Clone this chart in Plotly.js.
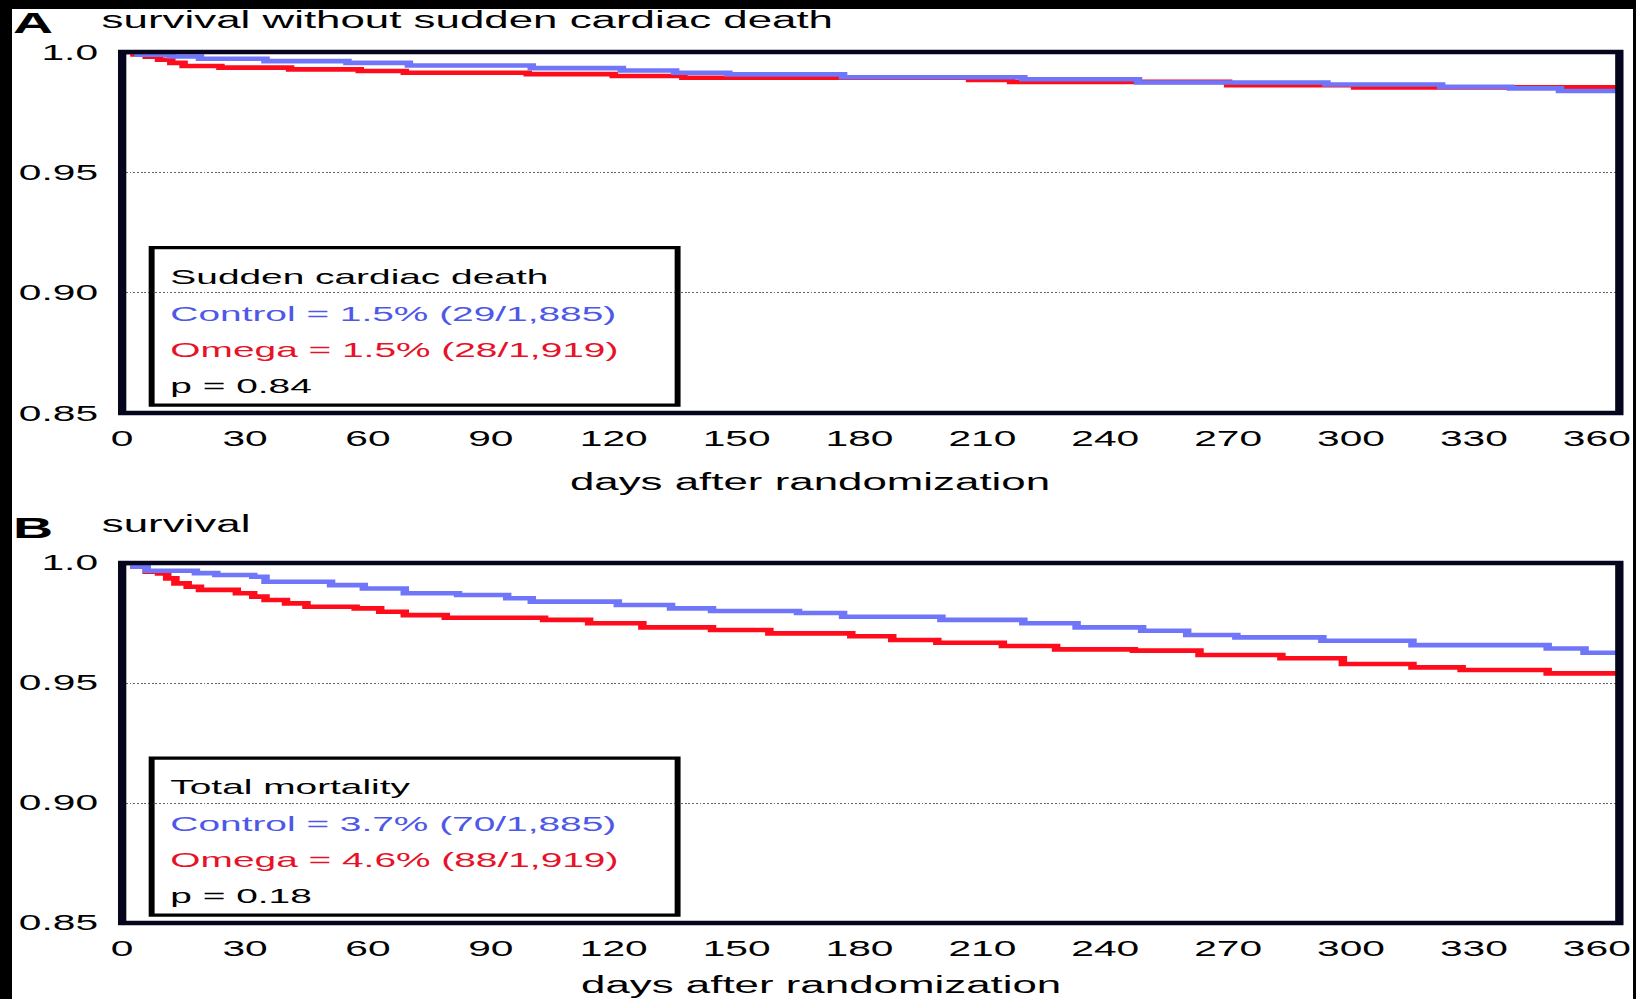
<!DOCTYPE html>
<html>
<head>
<meta charset="utf-8">
<script src="https://cdn.plot.ly/plotly-3.0.1.min.js"></script>
<style>
html,body{margin:0;padding:0;background:#000;overflow:hidden;width:1636px;height:999px}
#wrap{position:absolute;left:0;top:0;width:884px;height:999px;transform:scaleX(1.85068);transform-origin:0 0;}
.band{position:absolute;background:#000;z-index:10}
</style>
</head>
<body>
<div id="wrap"><div id="chart"></div></div>
<div class="band" style="left:0;top:0;width:12px;height:999px"></div>
<div class="band" style="left:0;top:0;width:1636px;height:9px"></div>
<div class="band" style="right:0;top:0;width:3px;height:999px"></div>
<script>
// ---- data ----
const ctrlA_days = [0,4,12,19,35,55,70,100,122,135,148,176,220,248,294,322,339,351,365.5];
const ctrlA_surv = [1.0,0.9989,0.9981,0.9972,0.9962,0.9955,0.9944,0.9933,0.9923,0.9914,0.9907,0.9895,0.9887,0.9873,0.9865,0.9855,0.9849,0.9838,0.9838];
const omegaA_days = [0,3,6,9,12,15,24,41,58,69,99,120,137,207,217,270,301,365.5];
const omegaA_surv = [1.0,0.9990,0.9980,0.9968,0.9955,0.9942,0.9935,0.9928,0.9921,0.9914,0.9908,0.9900,0.9893,0.9884,0.9876,0.9862,0.9853,0.9853];
const ctrlB_days = [0,3,6,18,23,32,35,51,59,69,82,94,100,121,134,144,165,176,200,220,233,249,260,272,293,315,348,357,365.5];
const ctrlB_surv = [1.0,0.9985,0.9968,0.9958,0.9950,0.9943,0.9922,0.9908,0.9894,0.9874,0.9867,0.9853,0.9839,0.9825,0.9811,0.9800,0.9792,0.9776,0.9763,0.9749,0.9732,0.9718,0.9700,0.9690,0.9676,0.9658,0.9644,0.9626,0.9626];
const omegaB_days = [0,3,6,9,11,13,16,19,28,32,35,40,45,57,63,69,79,103,114,127,144,158,178,188,199,215,228,247,263,283,298,315,327,348,365.5];
const omegaB_surv = [1.0,0.9985,0.9964,0.9957,0.9936,0.9915,0.9901,0.9888,0.9874,0.9860,0.9846,0.9832,0.9818,0.9811,0.9797,0.9783,0.9772,0.9763,0.9749,0.9732,0.9721,0.9707,0.9695,0.9679,0.9668,0.9654,0.9640,0.9635,0.9617,0.9603,0.9579,0.9565,0.9554,0.9540,0.9540];

const xTickVals = [0,30,60,90,120,150,180,210,240,270,300,330,360];
const yTickVals = [0.85,0.90,0.95,1.0];
const yTickText = ['0.85','0.90','0.95','1.0'];

const panelLetters = ['A','B'];
const panelTitles = ['survival without sudden cardiac death','survival'];
const xTitle = 'days after randomization';
const boxA = ['Sudden cardiac death','Control = 1.5% (29/1,885)','Omega = 1.5% (28/1,919)','p = 0.84'];
const boxB = ['Total mortality','Control = 3.7% (70/1,885)','Omega = 4.6% (88/1,919)','p = 0.18'];

// ---- styling ----
const FONT = 'Liberation Sans, Arial, Helvetica, sans-serif';
const BLUE_LINE = 'rgb(112,118,250)';
const RED_LINE = 'rgb(255,12,28)';
const BLUE_TXT = 'rgb(78,88,232)';
const RED_TXT = 'rgb(232,18,40)';
const FRAME = '#05051e';

function tr(x, y, color, xa, ya){
  return {x:x, y:y, mode:'lines', line:{shape:'hv', color:color, width:4.6}, xaxis:xa, yaxis:ya, hoverinfo:'skip', showlegend:false};
}
const data = [
  tr(omegaA_days, omegaA_surv, RED_LINE, 'x', 'y'),
  tr(ctrlA_days, ctrlA_surv, BLUE_LINE, 'x', 'y'),
  tr(omegaB_days, omegaB_surv, RED_LINE, 'x2', 'y2'),
  tr(ctrlB_days, ctrlB_surv, BLUE_LINE, 'x2', 'y2')
];

function xax(anchor){
  return {anchor:anchor, domain:[0,1], range:[0,365.5], tickvals:xTickVals, ticks:'', showgrid:false, zeroline:false, showline:false,
    tickfont:{family:FONT, size:22, color:'#000'}, ticklabelstandoff:10};
}
function yax(anchor, domain, shift){
  return {anchor:anchor, domain:domain, range:[0.85,1.0], tickvals:yTickVals, ticktext:yTickText, ticks:'',
    showgrid:true, gridcolor:'#666', griddash:'1px,1px', gridwidth:1, zeroline:false, showline:false,
    tickfont:{family:FONT, size:22, color:'#000'}, ticklabelstandoff:12, ticklabelshift:shift};
}

const shapes = [];
const annotations = [];
const lineY = [0.378, 0.276, 0.177, 0.076];
[['x','y',boxA],['x2','y2',boxB]].forEach(([xa,ya,txt]) => {
  shapes.push({type:'rect', xref:xa+' domain', yref:ya+' domain', x0:0, x1:1, y0:0, y1:1, line:{color:FRAME, width:4.5}, layer:'above'});
  shapes.push({type:'rect', xref:xa+' domain', yref:ya+' domain', x0:0.0197, x1:0.371, y0:0.022, y1:0.458, line:{color:'#000', width:3.2}, layer:'above'});
  const cols = ['#000', BLUE_TXT, RED_TXT, '#000'];
  txt.forEach((t,i) => annotations.push({xref:xa+' domain', yref:ya+' domain', x:0.0295, y:lineY[i], xanchor:'left', yanchor:'middle',
    text:t, showarrow:false, font:{family:FONT, size:21, color:cols[i]}}));
});
// panel letters and titles
const letterY = [1.0339, 0.4541];
const titleY = [1.0365, 0.4581];
panelLetters.forEach((L,i) => {
  annotations.push({xref:'paper', yref:'paper', x:-0.0755, y:letterY[i], xanchor:'left', yanchor:'middle', text:'<b>'+L+'</b>', showarrow:false,
    font:{family:FONT, size:30, color:'#000'}});
  annotations.push({xref:'paper', yref:'paper', x:-0.0165, y:titleY[i], xanchor:'left', yanchor:'middle', text:panelTitles[i], showarrow:false,
    font:{family:FONT, size:23.7, color:'#000'}});
});
// x-axis titles (placed slightly left of centre, as in the original)
const xTitleX = [0.4594, 0.4661];
const xTitleY = [0.5063, -0.0712];
xTitleX.forEach((xx,i) => annotations.push({xref:'paper', yref:'paper', x:xx, y:xTitleY[i], xanchor:'center', yanchor:'middle',
  text:xTitle, showarrow:false, font:{family:FONT, size:23.7, color:'#000'}}));

const layout = {
  width:884, height:999,
  margin:{l:66, r:9, t:52, b:76},
  paper_bgcolor:'#fff', plot_bgcolor:'#fff',
  xaxis:xax('y'), yaxis:yax('x', [0.5855,1], 0),
  xaxis2:xax('y2'), yaxis2:yax('x2', [0,0.4133], -1),
  shapes:shapes, annotations:annotations, showlegend:false
};
Plotly.newPlot('chart', data, layout, {staticPlot:true, displayModeBar:false});
</script>
</body>
</html>
